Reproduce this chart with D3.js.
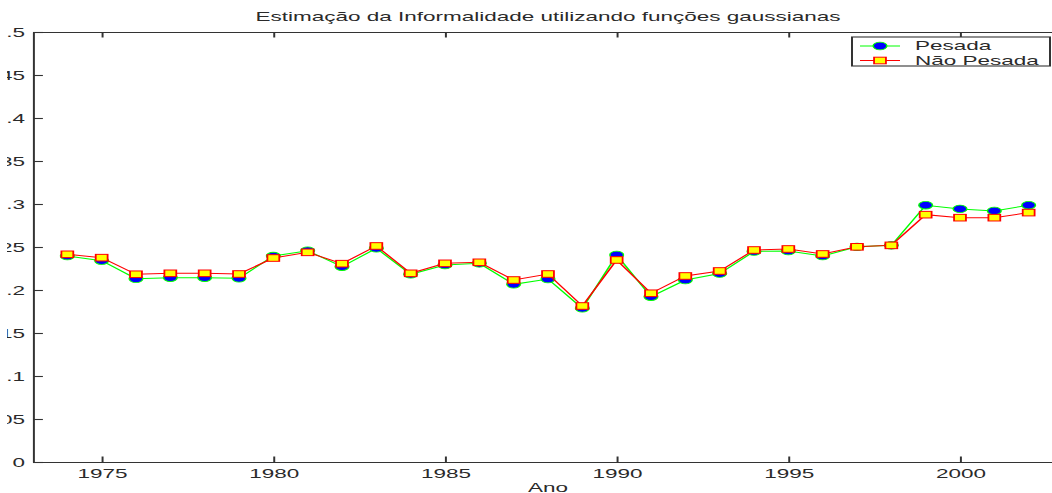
<!DOCTYPE html>
<html>
<head>
<meta charset="utf-8">
<script src="https://cdn.jsdelivr.net/npm/d3@7"></script>
<style>
  body { margin: 0; background: #fff; }
  svg { display: block; }
  text { font-family: "Liberation Sans", Arial, Helvetica, sans-serif; fill: #2a2a2a; }
</style>
</head>
<body>
<script>
const years = [1974, 1975, 1976, 1977, 1978, 1979, 1980, 1981, 1982, 1983, 1984, 1985, 1986, 1987, 1988,
  1989, 1990, 1991, 1992, 1993, 1994, 1995, 1996, 1997, 1998, 1999, 2000, 2001, 2002]
const pesada = [0.2395, 0.2341, 0.2131, 0.2143, 0.2143, 0.2136, 0.2395, 0.2457, 0.2271, 0.2485, 0.2183, 0.2291,
  0.2310, 0.2066, 0.2128, 0.1787, 0.2407, 0.1922, 0.2116, 0.2192, 0.2448, 0.2453, 0.2395, 0.2502, 0.2519,
  0.2986, 0.2943, 0.2919, 0.2986]
const naoPesada = [0.2415, 0.2376, 0.2183, 0.2194, 0.2194, 0.2186, 0.2372, 0.2438, 0.2306, 0.2512, 0.2194, 0.2310,
  0.2322, 0.2116, 0.2186, 0.1814, 0.2349, 0.1962, 0.2163, 0.2221, 0.2465, 0.2477, 0.2419, 0.2502, 0.2519,
  0.2876, 0.2841, 0.2841, 0.2900]
const xTicks = [1975, 1980, 1985, 1990, 1995, 2000]
const yTicks = [0, 0.05, 0.1, 0.15, 0.2, 0.25, 0.3, 0.35, 0.4, 0.45, 0.5]
const seriesNames = ['Pesada', 'Não Pesada']
const title = 'Estimação da Informalidade utilizando funções gaussianas'
const xLabel = 'Ano'

// the picture is stretched horizontally, so draw in a narrow box and scale it out
const sx = 1.8
const outW = 1052, outH = 493
const W = outW / sx

const svg = d3.select('body').append('svg')
  .attr('width', outW)
  .attr('height', outH)
  .attr('viewBox', `0 0 ${W} ${outH}`)
  .attr('preserveAspectRatio', 'none')

const x = d3.scaleLinear().domain([1973, 2003]).range([33 / sx, 1063 / sx])
const y = d3.scaleLinear().domain([0, 0.5]).range([462, 32])

const fontSize = 12.5
const axisColor = '#333'

// clip for the y labels (left edge of the picture cuts them)
svg.append('clipPath').attr('id', 'ylab')
  .append('rect').attr('x', 7 / sx).attr('y', 0).attr('width', W).attr('height', outH)

function styleAxis(g) {
  g.selectAll('path, line').attr('stroke', axisColor).attr('stroke-width', 1.1)
  g.selectAll('text').attr('font-size', fontSize).attr('font-family', null).attr('fill', '#2a2a2a')
}

// bottom axis
svg.append('g')
  .attr('transform', `translate(0,${y(0)})`)
  .call(d3.axisBottom(x).tickValues(xTicks).tickFormat(d3.format('d')).tickSizeInner(-5.5).tickSizeOuter(0).tickPadding(7))
  .call(styleAxis)

// top axis, ticks only
svg.append('g')
  .attr('transform', `translate(0,${y(0.5)})`)
  .call(d3.axisTop(x).tickValues(xTicks).tickFormat('').tickSizeInner(-5.5).tickSizeOuter(0))
  .call(styleAxis)

// left axis
svg.append('g')
  .attr('clip-path', 'url(#ylab)')
  .append('g')
  .attr('transform', `translate(${x(1973)},0)`)
  .call(d3.axisLeft(y).tickValues(yTicks).tickFormat(d => d === 0 ? '0' : d3.format('.2~f')(d)).tickSizeInner(-5.5).tickSizeOuter(0).tickPadding(4.4))
  .call(styleAxis)

// right axis
svg.append('g')
  .attr('transform', `translate(${x(2003)},0)`)
  .call(d3.axisRight(y).tickValues(yTicks).tickFormat('').tickSizeInner(-5.5).tickSizeOuter(0))
  .call(styleAxis)

// series: Pesada (green line, blue circles), then Não Pesada on top
const line = d3.line().x((d, i) => x(years[i])).y(d => y(d))

svg.append('path')
  .datum(pesada)
  .attr('d', line)
  .attr('fill', 'none')
  .attr('stroke', '#00ff00')
  .attr('stroke-width', 1)

svg.append('g').selectAll('circle')
  .data(pesada)
  .enter().append('circle')
  .attr('cx', (d, i) => x(years[i]))
  .attr('cy', d => y(d))
  .attr('r', 3.8)
  .attr('fill', '#0000ff')
  .attr('stroke', '#00ff00')
  .attr('stroke-width', 0.8)

svg.append('path')
  .datum(naoPesada)
  .attr('d', line)
  .attr('fill', 'none')
  .attr('stroke', '#ff0000')
  .attr('stroke-width', 1)

const sq = 6.6
svg.append('g').selectAll('rect')
  .data(naoPesada)
  .enter().append('rect')
  .attr('x', (d, i) => x(years[i]) - sq / 2)
  .attr('y', d => y(d) - sq / 2)
  .attr('width', sq)
  .attr('height', sq)
  .attr('fill', '#ffff00')
  .attr('stroke', '#ff0000')
  .attr('stroke-width', 1)

// title and x label
svg.append('text')
  .attr('x', (x(1973) + x(2003)) / 2)
  .attr('y', 21)
  .attr('text-anchor', 'middle')
  .attr('font-size', fontSize)
  .text(title)

svg.append('text')
  .attr('x', (x(1973) + x(2003)) / 2)
  .attr('y', 492)
  .attr('text-anchor', 'middle')
  .attr('font-size', fontSize)
  .text(xLabel)

// legend
const legend = svg.append('g')
legend.append('rect')
  .attr('x', 852 / sx)
  .attr('y', 37)
  .attr('width', (1050 - 852) / sx)
  .attr('height', 29)
  .attr('fill', '#fff')
  .attr('stroke', axisColor)
  .attr('stroke-width', 1.1)

const rows = [46, 60.5]
const lx0 = 860 / sx, lx1 = 900 / sx, lxm = 880 / sx
seriesNames.forEach(function (name, i) {
  const ly = rows[i]
  legend.append('line')
    .attr('x1', lx0).attr('x2', lx1).attr('y1', ly).attr('y2', ly)
    .attr('stroke', i === 0 ? '#00ff00' : '#ff0000')
    .attr('stroke-width', 1)
  if (i === 0) {
    legend.append('circle')
      .attr('cx', lxm).attr('cy', ly).attr('r', 3.8)
      .attr('fill', '#0000ff').attr('stroke', '#00ff00').attr('stroke-width', 0.8)
  } else {
    legend.append('rect')
      .attr('x', lxm - sq / 2).attr('y', ly - sq / 2).attr('width', sq).attr('height', sq)
      .attr('fill', '#ffff00').attr('stroke', '#ff0000').attr('stroke-width', 1)
  }
  legend.append('text')
    .attr('x', 915 / sx)
    .attr('y', ly + 4.5)
    .attr('font-size', fontSize)
    .text(name)
})
</script>
</body>
</html>
